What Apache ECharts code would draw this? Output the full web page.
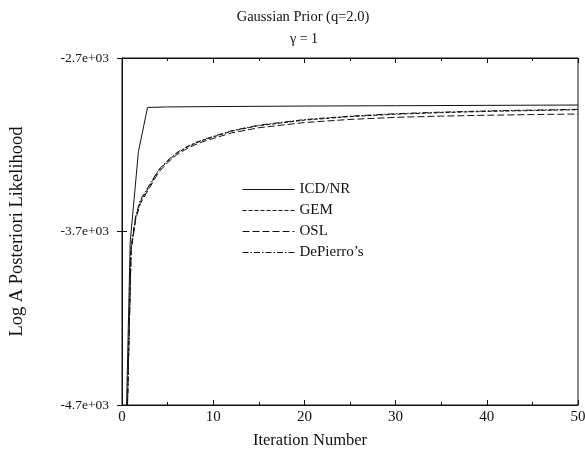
<!DOCTYPE html>
<html>
<head>
<meta charset="utf-8">
<script src="https://cdn.jsdelivr.net/npm/echarts@6/dist/echarts.min.js"></script>
<style>
  html, body {margin: 0; padding: 0; background: #fff;}
  #chart {width: 585px; height: 451px;}
</style>
</head>
<body>
<div id="chart"></div>
<script>
// values
const icdIter = [0.5, 0.9, 1.8, 2.8, 5, 10, 20, 30, 40, 50]
const icdNR = [-4700, -3760, -3240, -2985, -2982, -2980, -2977, -2975, -2973, -2971]

const emIter = [0.6, 1, 1.5, 2, 3, 4, 5, 6, 7, 8, 9, 10, 12, 15, 20, 25, 30, 35, 40, 45, 50]
const gem = [-4700, -3800, -3620, -3530, -3440, -3350, -3295, -3250, -3218, -3192, -3172, -3155, -3122, -3090, -3058, -3038, -3024, -3015, -3008, -3003, -2998]
const osl = [-4700, -3810, -3630, -3540, -3450, -3360, -3303, -3258, -3226, -3200, -3180, -3164, -3132, -3102, -3072, -3054, -3042, -3035, -3030, -3026, -3023]
const dePierro = [-4700, -3790, -3610, -3520, -3432, -3345, -3290, -3246, -3214, -3189, -3169, -3152, -3119, -3087, -3055, -3035, -3021, -3012, -3005, -3000, -2996]

const pairs = (xs, ys) => xs.map((x, i) => [x, ys[i]])
const font = 'Liberation Serif'
const ink = '#111'
const clear = 'rgba(0,0,0,0)'

const line = (name, data, type) => ({
  name,
  type: 'line',
  data,
  symbol: 'none',
  lineStyle: {color: ink, width: 1, type},
  itemStyle: {color: ink}
})

const chart = echarts.init(document.getElementById('chart'))
chart.setOption({
  animation: false,
  backgroundColor: '#fff',
  title: [
    {text: 'Gaussian Prior (q=2.0)', left: 298, top: 5, textAlign: 'center',
      textStyle: {fontFamily: font, fontSize: 14.5, fontWeight: 'normal', color: ink}},
    {text: 'γ = 1', left: 299, top: 27, textAlign: 'center',
      textStyle: {fontFamily: font, fontSize: 14, fontWeight: 'normal', color: ink}}
  ],
  legend: {
    orient: 'vertical',
    left: 237,
    top: 177,
    itemWidth: 52,
    itemHeight: 14,
    itemGap: 6,
    itemStyle: {color: clear, borderColor: clear, borderWidth: 0, opacity: 0},
    lineStyle: {width: 1},
    textStyle: {fontFamily: font, fontSize: 15, color: ink},
    data: ['ICD/NR', 'GEM', 'OSL', 'DePierro\u2019s']
  },
  grid: {left: 122, right: 7, top: 58, bottom: 46, show: true, borderColor: ink, borderWidth: 1,
    containLabel: false, outerBoundsMode: 'none'},
  xAxis: [{
    type: 'value', min: 0, max: 50, interval: 10,
    name: 'Iteration Number', nameLocation: 'middle', nameGap: 27,
    nameTextStyle: {fontFamily: font, fontSize: 16.5, color: ink, padding: [0, 80, 0, 0]},
    axisLine: {lineStyle: {color: ink}},
    axisTick: {inside: true, length: 5, lineStyle: {color: ink}},
    minorTick: {show: true, splitNumber: 2, length: 3, lineStyle: {color: ink}},
    axisLabel: {fontFamily: font, fontSize: 15, color: ink, margin: 5},
    splitLine: {show: false}
  }, {
    type: 'value', min: 0, max: 50, interval: 10, position: 'top',
    axisLine: {lineStyle: {color: ink}},
    axisTick: {inside: true, length: 5, lineStyle: {color: ink}},
    minorTick: {show: true, splitNumber: 2, length: 3, lineStyle: {color: ink}},
    axisLabel: {show: false},
    splitLine: {show: false}
  }],
  yAxis: [{
    type: 'value', min: -4700, max: -2700, interval: 1000,
    name: 'Log A Posteriori Likelihood', nameLocation: 'middle', nameGap: 95,
    nameTextStyle: {fontFamily: font, fontSize: 18.5, color: ink},
    axisLine: {show: true, lineStyle: {color: ink}},
    axisTick: {show: true, inside: true, length: 5, lineStyle: {color: ink}},
    axisLabel: {fontFamily: font, fontSize: 13.5, color: ink, margin: 13,
      formatter: v => (v / 1000).toFixed(1) + 'e+03'},
    splitLine: {show: false}
  }, {
    type: 'value', min: -4700, max: -2700, interval: 1000, position: 'right',
    axisLine: {show: true, lineStyle: {color: ink}},
    axisTick: {show: true, inside: true, length: 5, lineStyle: {color: ink}},
    axisLabel: {show: false},
    splitLine: {show: false}
  }],
  series: [
    line('ICD/NR', pairs(icdIter, icdNR), 'solid'),
    line('GEM', pairs(emIter, gem), [4, 2]),
    line('OSL', pairs(emIter, osl), [7, 3]),
    line('DePierro\u2019s', pairs(emIter, dePierro), [6, 2, 1.5, 2])
  ]
})
</script>
</body>
</html>
